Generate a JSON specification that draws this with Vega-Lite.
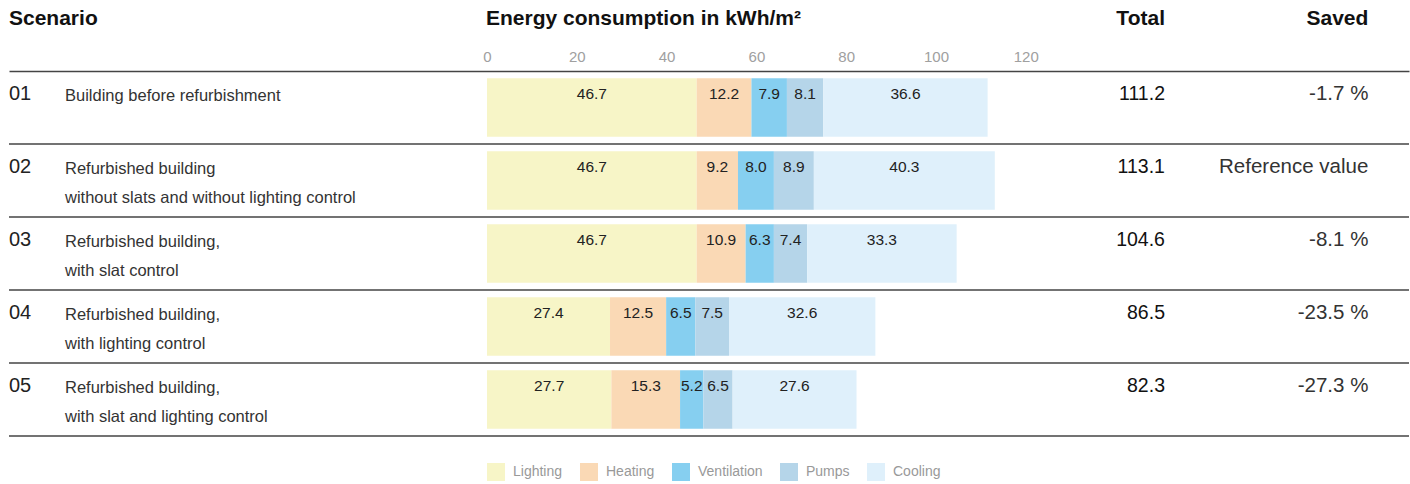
{
  "$schema": "https://vega.github.io/schema/vega-lite/v6.json",
  "padding": {"left": 8, "top": 0, "right": 2, "bottom": 0},
  "background": "white",
  "bounds": "flush",
  "spacing": 33,
  "config": {"view": {"stroke": null}, "font": "Liberation Sans"},
  "resolve": {"scale": {"x": "shared"}},
  "datasets": {
    "energy": [
      {"id": "01", "category": "Lighting", "k": 1, "value": 46.7},
      {"id": "01", "category": "Heating", "k": 2, "value": 12.2},
      {"id": "01", "category": "Ventilation", "k": 3, "value": 7.9},
      {"id": "01", "category": "Pumps", "k": 4, "value": 8.1},
      {"id": "01", "category": "Cooling", "k": 5, "value": 36.6},
      {"id": "02", "category": "Lighting", "k": 1, "value": 46.7},
      {"id": "02", "category": "Heating", "k": 2, "value": 9.2},
      {"id": "02", "category": "Ventilation", "k": 3, "value": 8.0},
      {"id": "02", "category": "Pumps", "k": 4, "value": 8.9},
      {"id": "02", "category": "Cooling", "k": 5, "value": 40.3},
      {"id": "03", "category": "Lighting", "k": 1, "value": 46.7},
      {"id": "03", "category": "Heating", "k": 2, "value": 10.9},
      {"id": "03", "category": "Ventilation", "k": 3, "value": 6.3},
      {"id": "03", "category": "Pumps", "k": 4, "value": 7.4},
      {"id": "03", "category": "Cooling", "k": 5, "value": 33.3},
      {"id": "04", "category": "Lighting", "k": 1, "value": 27.4},
      {"id": "04", "category": "Heating", "k": 2, "value": 12.5},
      {"id": "04", "category": "Ventilation", "k": 3, "value": 6.5},
      {"id": "04", "category": "Pumps", "k": 4, "value": 7.5},
      {"id": "04", "category": "Cooling", "k": 5, "value": 32.6},
      {"id": "05", "category": "Lighting", "k": 1, "value": 27.7},
      {"id": "05", "category": "Heating", "k": 2, "value": 15.3},
      {"id": "05", "category": "Ventilation", "k": 3, "value": 5.2},
      {"id": "05", "category": "Pumps", "k": 4, "value": 6.5},
      {"id": "05", "category": "Cooling", "k": 5, "value": 27.6}
    ],
    "scenarios": [
      {"id": "01", "desc": "Building before refurbishment", "total": 111.2, "saved": "-1.7 %"},
      {"id": "02", "desc": "Refurbished building\nwithout slats and without lighting control", "total": 113.1, "saved": "Reference value"},
      {"id": "03", "desc": "Refurbished building,\nwith slat control", "total": 104.6, "saved": "-8.1 %"},
      {"id": "04", "desc": "Refurbished building,\nwith lighting control", "total": 86.5, "saved": "-23.5 %"},
      {"id": "05", "desc": "Refurbished building,\nwith slat and lighting control", "total": 82.3, "saved": "-27.3 %"}
    ]
  },
  "vconcat": [
    {
      "width": 1400,
      "height": 38,
      "layer": [
        {
          "data": {"values": [{"header": "Scenario"}]},
          "mark": {"type": "text", "align": "left", "baseline": "middle", "fontSize": 21, "fontWeight": "bold", "color": "#111"},
          "encoding": {
            "x": {"datum": -106.46, "type": "quantitative", "scale": {"domain": [-106.46, 205.35], "nice": false, "zero": false}, "axis": null},
            "text": {"field": "header"}
          }
        },
        {
          "data": {"values": [{"header": "Energy consumption in kWh/m²"}]},
          "mark": {"type": "text", "align": "left", "baseline": "middle", "fontSize": 21, "fontWeight": "bold", "color": "#111", "dx": -1},
          "encoding": {
            "x": {"datum": 0, "type": "quantitative", "axis": null},
            "text": {"field": "header"}
          }
        },
        {
          "data": {"values": [{"header": "Total"}]},
          "mark": {"type": "text", "align": "right", "baseline": "middle", "fontSize": 21, "fontWeight": "bold", "color": "#111"},
          "encoding": {
            "x": {"datum": 151.0, "type": "quantitative", "axis": null},
            "text": {"field": "header"}
          }
        },
        {
          "data": {"values": [{"header": "Saved"}]},
          "mark": {"type": "text", "align": "right", "baseline": "middle", "fontSize": 21, "fontWeight": "bold", "color": "#111"},
          "encoding": {
            "x": {"datum": 196.3, "type": "quantitative", "axis": null},
            "text": {"field": "header"}
          }
        }
      ]
    },
    {
      "width": 1400,
      "height": 365,
      "encoding": {
        "y": {"field": "id", "type": "nominal", "scale": {"domain": ["01", "02", "03", "04", "05"], "paddingInner": 0, "paddingOuter": 0}, "axis": null}
      },
      "layer": [
        {
          "data": {"name": "energy"},
          "mark": {"type": "bar", "height": {"band": 0.8}},
          "encoding": {
            "x": {
              "field": "value", "type": "quantitative", "stack": "zero",
              "scale": {"domain": [-106.46, 205.35], "nice": false, "zero": false},
              "axis": {"orient": "top", "values": [0, 20, 40, 60, 80, 100, 120], "ticks": false, "tickSize": 0, "grid": false, "domain": true, "domainColor": "#444", "domainWidth": 1.5, "labelFontSize": 15, "labelColor": "#a0a0a0", "labelPadding": 7, "labelFlush": false, "title": null}
            },
            "color": {
              "field": "category", "type": "nominal",
              "sort": ["Lighting", "Heating", "Ventilation", "Pumps", "Cooling"],
              "scale": {"domain": ["Lighting", "Heating", "Ventilation", "Pumps", "Cooling"], "range": ["#f7f5c7", "#fad9b5", "#86cff0", "#b5d5e9", "#dff0fb"]},
              "legend": {"orient": "none", "legendX": 478, "legendY": 463, "direction": "horizontal", "title": null, "symbolType": "square", "symbolSize": 324, "symbolStrokeWidth": 0, "symbolOpacity": 1, "labelFontSize": 14, "labelColor": "#999", "labelOffset": 8, "columnPadding": 17, "padding": 0}
            },
            "order": {"field": "k", "type": "quantitative"}
          }
        },
        {
          "data": {"name": "energy"},
          "mark": {"type": "text", "fontSize": 15.5, "color": "#222", "baseline": "middle", "align": "center"},
          "encoding": {
            "x": {"field": "value", "type": "quantitative", "stack": "zero", "bandPosition": 0.5},
            "y": {"field": "id", "type": "nominal", "bandPosition": 0.32},
            "detail": {"field": "category"},
            "order": {"field": "k", "type": "quantitative"},
            "text": {"field": "value", "type": "quantitative", "format": ".1f"}
          }
        },
        {
          "data": {"name": "scenarios"},
          "mark": {"type": "rule", "color": "#444", "strokeWidth": 1.5},
          "encoding": {
            "y": {"field": "id", "type": "nominal", "bandPosition": 1}
          }
        },
        {
          "data": {"name": "scenarios"},
          "mark": {"type": "text", "align": "left", "baseline": "middle", "fontSize": 20, "color": "#222"},
          "encoding": {
            "x": {"datum": -106.46, "type": "quantitative"},
            "y": {"field": "id", "type": "nominal", "bandPosition": 0.32},
            "text": {"field": "id"}
          }
        },
        {
          "data": {"name": "scenarios"},
          "mark": {"type": "text", "align": "left", "baseline": "top", "fontSize": 16.5, "color": "#333", "lineBreak": "\n", "lineHeight": 29},
          "encoding": {
            "x": {"datum": -93.99, "type": "quantitative"},
            "y": {"field": "id", "type": "nominal", "bandPosition": 0.235},
            "text": {"field": "desc"}
          }
        },
        {
          "data": {"name": "scenarios"},
          "mark": {"type": "text", "align": "right", "baseline": "middle", "fontSize": 19.5, "color": "#111"},
          "encoding": {
            "x": {"datum": 151.0, "type": "quantitative"},
            "y": {"field": "id", "type": "nominal", "bandPosition": 0.32},
            "text": {"field": "total", "type": "quantitative", "format": ".1f"}
          }
        },
        {
          "data": {"name": "scenarios"},
          "mark": {"type": "text", "align": "right", "baseline": "middle", "fontSize": 20.5, "color": "#333"},
          "encoding": {
            "x": {"datum": 196.3, "type": "quantitative"},
            "y": {"field": "id", "type": "nominal", "bandPosition": 0.32},
            "text": {"field": "saved"}
          }
        }
      ]
    }
  ]
}
